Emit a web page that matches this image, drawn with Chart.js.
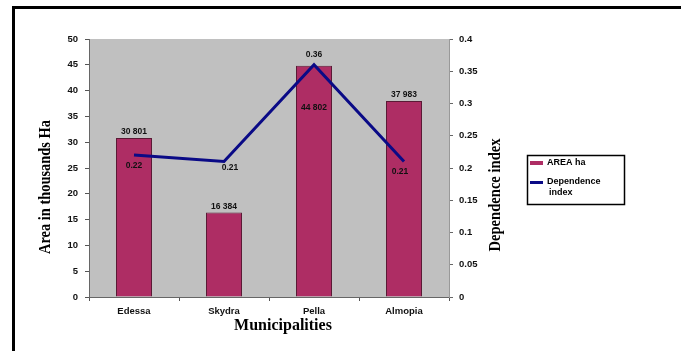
<!DOCTYPE html>
<html>
<head>
<meta charset="utf-8">
<script src="https://cdn.jsdelivr.net/npm/chart.js@4/dist/chart.umd.min.js"></script>
<style>
  html, body { margin: 0; padding: 0; background: #fff; }
  #wrap { width: 681px; height: 351px; position: relative; }
</style>
</head>
<body>
<div id="wrap"><canvas id="c" width="681" height="351"></canvas></div>
<script>
// Municipalities of Pella prefecture: cultivated area and dependence index
const municipalities = ['Edessa', 'Skydra', 'Pella', 'Almopia'];
const areaHa = [30801, 16384, 44802, 37983];
const dependenceIndex = [0.22, 0.21, 0.36, 0.21];
const areaTicks = [0, 5, 10, 15, 20, 25, 30, 35, 40, 45, 50];
const indexTicks = [0, 0.05, 0.1, 0.15, 0.2, 0.25, 0.3, 0.35, 0.4];

const BAR_COLOR = '#AE2D64';
const LINE_COLOR = '#0A0A86';
const PLOT_BG = '#C0C0C0';
const TICK_FONT = { family: 'Liberation Sans, Arial, sans-serif', size: 9.5, weight: 'bold' };
const CAT_FONT = { family: 'Liberation Sans, Arial, sans-serif', size: 9.5, weight: 'bold' };

function fmtArea(v) {
  return String(v).replace(/\B(?=(\d{3})+(?!\d))/g, ' ');
}

// label placement: offsets from the mark (pixels)
const barLabelShift = [-6, -6, 42, -6];
const lineLabelShift = [[0, 11], [6, 6], [0, -10], [-4, 10]];

const decorations = {
  id: 'decorations',
  beforeDraw(chart) {
    const { ctx, chartArea: a } = chart;
    ctx.save();
    ctx.fillStyle = PLOT_BG;
    ctx.fillRect(a.left, a.top, a.right - a.left, a.bottom - a.top);
    ctx.restore();
  },
  afterDraw(chart) {
    const { ctx } = chart;
    ctx.save();
    // outer frame
    ctx.fillStyle = '#000';
    ctx.fillRect(12, 6, 3, 345);
    ctx.fillRect(12, 6, 669, 3);

    // value labels
    ctx.font = 'bold 8.5px "Liberation Sans", Arial, sans-serif';
    ctx.textAlign = 'center';
    ctx.textBaseline = 'middle';
    ctx.fillStyle = '#111';
    const barMeta = chart.getDatasetMeta(0);
    barMeta.data.forEach((bar, i) => {
      ctx.fillText(fmtArea(areaHa[i]), bar.x, bar.y + barLabelShift[i]);
    });
    const lineMeta = chart.getDatasetMeta(1);
    lineMeta.data.forEach((pt, i) => {
      ctx.fillText(String(dependenceIndex[i]), pt.x + lineLabelShift[i][0], pt.y + lineLabelShift[i][1]);
    });

    // axis titles
    ctx.fillStyle = '#000';
    ctx.font = 'bold 16px "Liberation Serif", "Times New Roman", serif';
    function vtitle(text, cx, cy, len) {
      const w = ctx.measureText(text).width;
      ctx.save();
      ctx.translate(cx, cy);
      ctx.rotate(-Math.PI / 2);
      ctx.scale(len / w, 1);
      ctx.textAlign = 'center';
      ctx.textBaseline = 'middle';
      ctx.fillText(text, 0, 0);
      ctx.restore();
    }
    vtitle('Area in thousands Ha', 46, 187, 134);
    vtitle('Dependence index', 496, 195, 113);
    ctx.textAlign = 'center';
    ctx.textBaseline = 'middle';
    ctx.fillText('Municipalities', 283, 326);

    // legend
    ctx.lineWidth = 1.5;
    ctx.strokeStyle = '#000';
    ctx.strokeRect(527.5, 155.5, 97, 49);
    ctx.fillStyle = BAR_COLOR;
    ctx.fillRect(530, 161, 13, 4);
    ctx.strokeStyle = LINE_COLOR;
    ctx.lineWidth = 3;
    ctx.beginPath();
    ctx.moveTo(530, 182.5);
    ctx.lineTo(543, 182.5);
    ctx.stroke();
    ctx.fillStyle = '#000';
    ctx.font = 'bold 9px "Liberation Sans", Arial, sans-serif';
    ctx.textAlign = 'left';
    ctx.fillText('AREA ha', 547, 163);
    ctx.fillText('Dependence', 547, 182);
    ctx.fillText('index', 549, 193);
    ctx.restore();
  }
};

new Chart(document.getElementById('c'), {
  type: 'bar',
  data: {
    labels: municipalities,
    datasets: [
      {
        type: 'bar',
        label: 'AREA ha',
        data: areaHa.map(v => v / 1000),
        yAxisID: 'y',
        backgroundColor: BAR_COLOR,
        borderColor: '#5a1a35',
        borderWidth: 1,
        barPercentage: 0.4,
        categoryPercentage: 1,
        order: 2
      },
      {
        type: 'line',
        label: 'Dependence index',
        data: dependenceIndex,
        yAxisID: 'y1',
        borderColor: LINE_COLOR,
        borderWidth: 3,
        pointRadius: 0,
        tension: 0,
        fill: false,
        order: 1
      }
    ]
  },
  options: {
    responsive: false,
    animation: false,
    devicePixelRatio: 1,
    layout: { padding: { top: 39, left: 0, right: 0, bottom: 0 } },
    plugins: { legend: { display: false }, tooltip: { enabled: false } },
    scales: {
      x: {
        offset: true,
        grid: { display: true, drawOnChartArea: false, drawTicks: true, tickLength: 4, color: '#555', offset: true },
        border: { display: true, color: '#666', width: 1 },
        ticks: { font: CAT_FONT, color: '#111', padding: 5 },
        afterFit(s) { s.height = 54; }
      },
      y: {
        position: 'left',
        min: 0, max: 50,
        afterBuildTicks(s) { s.ticks = areaTicks.map(v => ({ value: v })); },
        grid: { display: true, drawOnChartArea: false, drawTicks: true, tickLength: 4, color: '#555' },
        border: { display: true, color: '#666', width: 1 },
        ticks: { font: TICK_FONT, color: '#111', padding: 7, callback: v => String(v) },
        afterFit(s) { s.width = 89; }
      },
      y1: {
        position: 'right',
        min: 0, max: 0.4,
        afterBuildTicks(s) { s.ticks = indexTicks.map(v => ({ value: v })); },
        grid: { display: true, drawOnChartArea: false, drawTicks: true, tickLength: 4, color: '#666' },
        border: { display: true, color: '#999', width: 1 },
        ticks: { font: TICK_FONT, color: '#111', padding: 6, callback: v => String(v) },
        afterFit(s) { s.width = 232; }
      }
    }
  },
  plugins: [decorations]
});
</script>
</body>
</html>
